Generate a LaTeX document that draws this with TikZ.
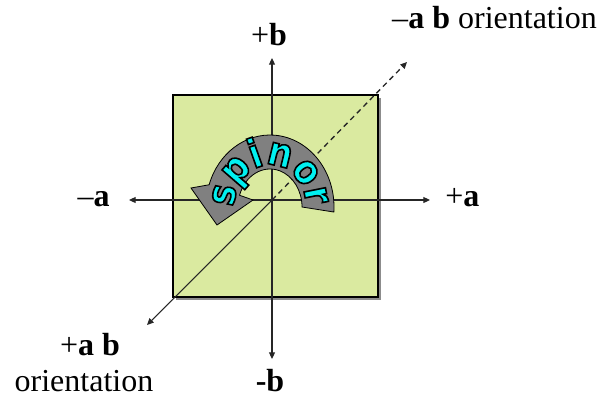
\documentclass[tikz,border=0pt]{standalone}
\usepackage{fontspec}
\setmainfont{Liberation Serif}
\newfontfamily\spinfont{DejaVu Sans Bold}[FakeBold=4, FakeStretch=0.86]
\usetikzlibrary{arrows.meta,decorations.text}

\definecolor{sqfill}{RGB}{218,234,160}
\definecolor{spincyan}{RGB}{0,240,240}
\definecolor{bandgray}{RGB}{128,128,128}

%% cyan letters with a black stroke round them
\newcommand\spinstyle{\spinfont\fontsize{30}{34}\selectfont\color{spincyan}\special{pdf:code 0 0 0 RG}}

\begin{document}
\begin{tikzpicture}[
  x=0.75pt, y=0.75pt,
  >={Triangle[length=5pt,width=4.5pt]},
  ax/.style   = {line width=0.8pt, black!85},
  sq/.style   = {fill=sqfill, draw=black, line width=0.8pt},
  band/.style = {fill=bandgray, draw=black, line width=0.6pt},
  lbl/.style  = {font=\fontsize{24}{28}\selectfont, anchor=base, inner sep=0pt},
]
\useasboundingbox (0,0) rectangle (598,401);

%% the shaded plane
\fill[black!45] (175.5,101.5) rectangle (380.5,303.5);
\filldraw[sq] (173,104) rectangle (378,306);

%% axes
\coordinate (o)     at (272,201);
\coordinate (aneg)  at (129,201);
\coordinate (apos)  at (430,201);
\coordinate (bpos)  at (272,343);
\coordinate (bneg)  at (272,42);
\coordinate (abneg) at (407,339);
\coordinate (abpos) at (147,76);

\draw[ax,<->] (aneg) -- (apos);
\draw[ax,<->] (bneg) -- (bpos);
\draw[ax,->] (o) -- (abpos);
\draw[ax,->,line width=1pt,dash pattern=on 4pt off 3pt] (o) -- (abneg);

%% the curved spinor arrow
\coordinate (c) at (270,194);
\filldraw[band] ([shift={(-4:64 and 72)}]c)
    arc[start angle=-4, end angle=162, x radius=64, y radius=72]
    -- (191,213) -- (217,176) -- (253,201)
    -- ([shift={(162:32 and 38)}]c)
    arc[start angle=162, end angle=0, x radius=32, y radius=38] -- cycle;

\path[decorate, decoration={text along path,
    text={|\spinstyle|spinor}, text align=center}]
  ([shift={(190:36 and 42)}]c)
    arc[start angle=190, end angle=-8, x radius=36, y radius=42];

%% labels
\node[lbl] (pb)  at (269,356) {+\textbf{b}};
\node[lbl, anchor=base east] (mab) at (597,373) {--\textbf{a b} orientation};
\node[lbl, anchor=base east] (ma)  at (110,195) {--\textbf{a}};
\node[lbl, anchor=base west] (pa)  at (445,195) {+\textbf{a}};
\node[lbl] (pab) at (90,46)  {+\textbf{a b}};
\node[lbl] (orl) at (84,10)  {orientation};
\node[lbl] (mb)  at (270,10) {\textbf{-b}};

\end{tikzpicture}
\end{document}
